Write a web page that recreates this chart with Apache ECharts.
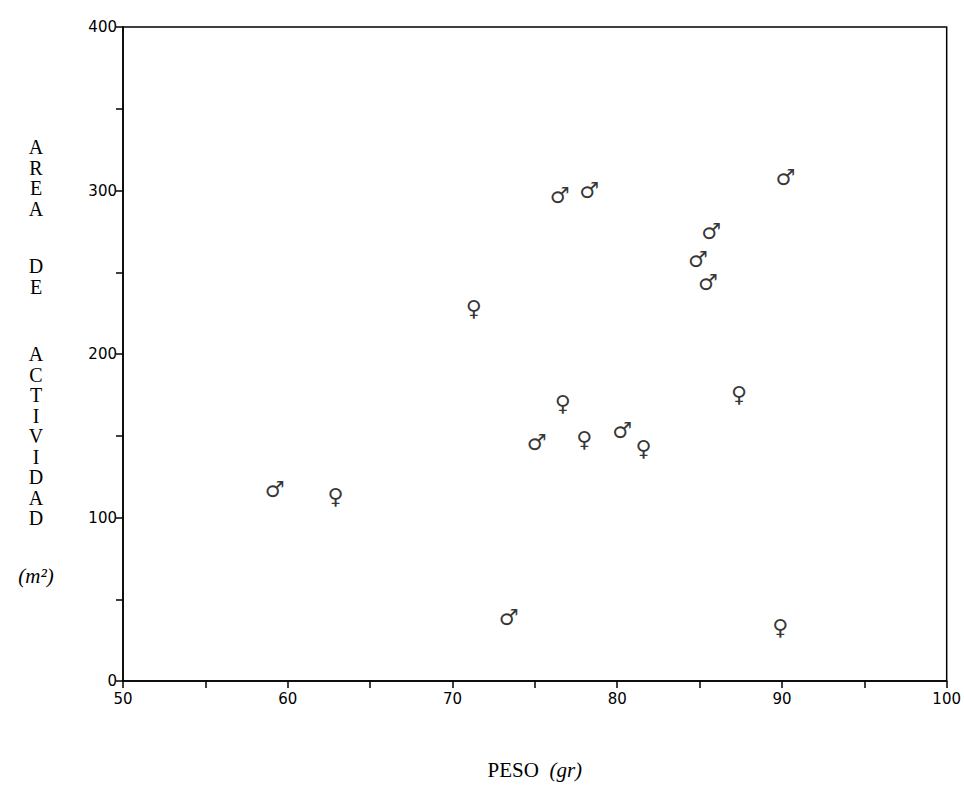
<!DOCTYPE html>
<html>
<head>
<meta charset="utf-8">
<script src="https://cdn.jsdelivr.net/npm/echarts@6/dist/echarts.min.js"></script>
<style>html,body{margin:0;padding:0;background:#fff}#c{width:964px;height:785px}</style>
</head>
<body>
<div id="c"></div>
<script>
// Data (peso in gr, area de actividad in m2)
var malePeso  = [59.2, 73.4, 75.1, 76.5, 78.3, 80.3, 84.9, 85.5, 85.7, 90.2];
var maleArea  = [117, 39, 146, 297, 300, 153, 258, 244, 275, 308];
var femalePeso = [62.9, 71.3, 76.7, 78.0, 81.6, 87.4, 89.9];
var femaleArea = [113, 228, 170, 148, 142, 175, 33];
var xTicks = [50, 60, 70, 80, 90, 100];
var yTicks = [0, 100, 200, 300, 400];

function pairs(a, b) { return a.map(function (v, i) { return [v, b[i]]; }); }

var chart = echarts.init(document.getElementById('c'), null, { renderer: 'svg' });
var ink = '#000';
var serif = '"Liberation Serif", "DejaVu Serif", serif';
var sans = '"DejaVu Sans", "Liberation Sans", sans-serif';

function glyphSeries(name, data, ch) {
  return {
    name: name, type: 'scatter', data: data,
    symbol: 'circle', symbolSize: 1,
    itemStyle: { color: 'rgba(0,0,0,0)' },
    label: { show: true, position: 'inside', formatter: ch,
      fontFamily: sans, fontSize: 22, fontWeight: 'bold', color: ink, lineHeight: 22 },
    silent: true
  };
}

var words = [
  { letters: 'AREA', y0: 147, step: 20.5 },
  { letters: 'DE', y0: 266, step: 20.5 },
  { letters: 'ACTIVIDAD', y0: 354, step: 20.5 }
];
var graphics = [];
words.forEach(function (w) {
  w.letters.split('').forEach(function (ch, i) {
    graphics.push({ type: 'text', x: 36, y: w.y0 + i * w.step,
      style: { text: ch, fill: ink, font: '20px ' + serif, lineHeight: 18,
        textAlign: 'center', textVerticalAlign: 'middle' } });
  });
});
graphics.push({ type: 'text', x: 36, y: 576,
  style: { text: '(m²)', fill: ink, font: 'italic 21px ' + serif, textAlign: 'center', textVerticalAlign: 'middle' } });

chart.setOption({
  animation: false,
  backgroundColor: '#fff',
  grid: { left: 123, right: 17, top: 27, bottom: 103, show: true, borderColor: ink, borderWidth: 1.5 },
  xAxis: {
    type: 'value', min: 50, max: 100, interval: 5,
    name: 'PESO  {i|(gr)}', nameLocation: 'middle', nameGap: 78,
    nameTextStyle: { fontFamily: serif, fontSize: 21, color: ink,
      rich: { i: { fontFamily: serif, fontStyle: 'italic', fontSize: 21, color: ink } } },
    axisLine: { lineStyle: { color: ink, width: 1.5 } },
    axisTick: { show: true, inside: false, length: 7, lineStyle: { color: ink, width: 1.5 } },
    axisLabel: { color: ink, fontFamily: sans, fontSize: 15, margin: 10,
      formatter: function (v) { return xTicks.indexOf(v) >= 0 ? String(v) : ''; } },
    splitLine: { show: false }
  },
  yAxis: {
    type: 'value', min: 0, max: 400, interval: 50,
    axisLine: { show: true, lineStyle: { color: ink, width: 1.5 } },
    axisTick: { show: true, inside: false, length: 7, lineStyle: { color: ink, width: 1.5 } },
    axisLabel: { color: ink, fontFamily: sans, fontSize: 15, margin: 6,
      formatter: function (v) { return yTicks.indexOf(v) >= 0 ? String(v) : ''; } },
    splitLine: { show: false }
  },
  graphic: graphics,
  series: [
    glyphSeries('Machos', pairs(malePeso, maleArea), '♂'),
    glyphSeries('Hembras', pairs(femalePeso, femaleArea), '♀')
  ]
});
</script>
</body>
</html>
